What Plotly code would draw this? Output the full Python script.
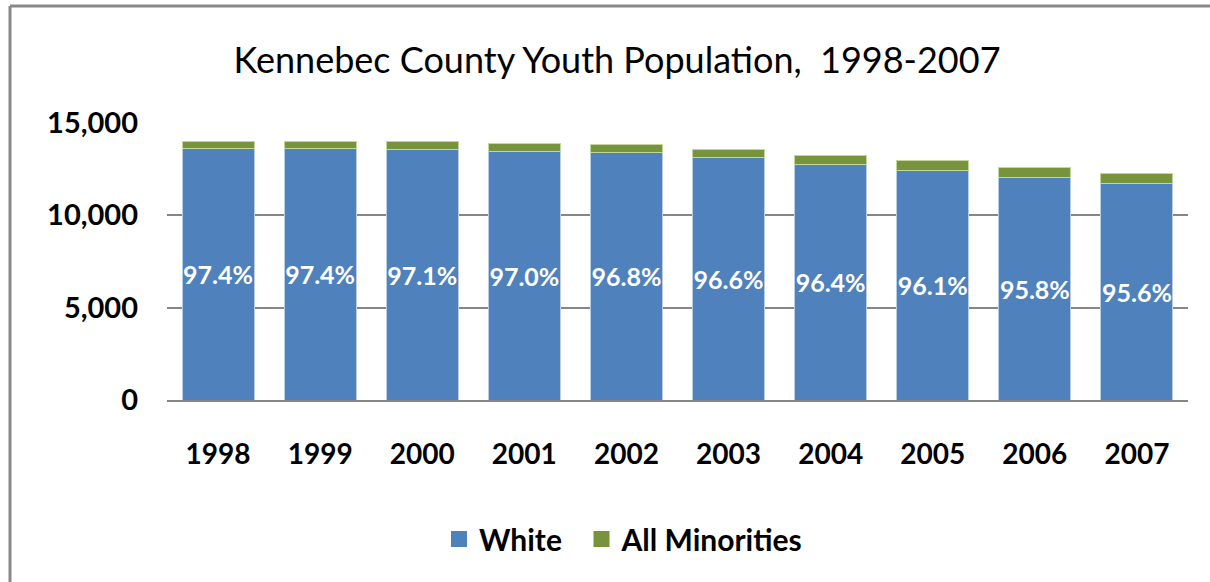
import plotly.graph_objects as go

years = ["1998", "1999", "2000", "2001", "2002", "2003", "2004", "2005", "2006", "2007"]
white = [13621, 13617, 13575, 13483, 13378, 13109, 12763, 12455, 12061, 11701]
minorities = [364, 363, 405, 417, 442, 461, 477, 505, 529, 539]
y_ticks = [0, 5000, 10000, 15000]

pct_labels = [f"{w / (w + m) * 100:.1f}%" for w, m in zip(white, minorities)]

FONT = "Lato"
BLUE, GREEN = "#4F81BD", "#77933C"

fig = go.Figure()
fig.add_trace(
    go.Bar(
        name="White",
        x=years,
        y=white,
        marker=dict(color=BLUE, line=dict(color="#B9CDE5", width=1)),
        text=pct_labels,
        textposition="inside",
        insidetextanchor="middle",
        constraintext="none",
        textangle=0,
        textfont=dict(family=FONT, size=25, color="white", weight="bold"),
        showlegend=False,
    )
)
fig.add_trace(
    go.Bar(
        name="All Minorities",
        x=years,
        y=minorities,
        marker=dict(color=GREEN, line=dict(color="#C3D69B", width=1)),
        showlegend=False,
    )
)

# bigger square legend keys than the bar defaults; nbsp pads the gap after "White"
for name, color in [("White\u00a0\u00a0", BLUE), ("All Minorities", GREEN)]:
    fig.add_trace(
        go.Scatter(
            name=name,
            x=[None],
            y=[None],
            mode="markers",
            marker=dict(symbol="square", size=18, color=color),
        )
    )

# plot area in pixels: x 167..1188, y 123..400
L, R, T, B = 167, 22, 123, 182
pw, ph = 1210 - L - R, 582 - T - B


def px(x):
    return (x - L) / pw


def py(y):
    return (582 - B - y) / ph


fig.update_layout(
    width=1210,
    height=582,
    barmode="stack",
    bargap=0.295,
    paper_bgcolor="white",
    plot_bgcolor="white",
    margin=dict(l=L, r=R, t=T, b=B),
    font=dict(family=FONT, color="black"),
    title=dict(
        text="Kennebec County Youth Population,  1998-2007",
        x=617 / 1210,
        xanchor="center",
        y=1 - 60 / 582,
        yanchor="middle",
        font=dict(family=FONT, size=36, color="black"),
    ),
    xaxis=dict(
        tickfont=dict(family=FONT, size=28, weight="bold"),
        showline=True,
        linecolor="#868686",
        linewidth=1.5,
        ticks="",
        ticklabelstandoff=29,
    ),
    yaxis=dict(
        range=[0, 15000],
        tickvals=y_ticks,
        tickformat=",",
        tickfont=dict(family=FONT, size=29, weight="bold"),
        showgrid=True,
        gridcolor="#868686",
        gridwidth=1.5,
        zeroline=False,
        ticks="",
        ticklabelstandoff=28,
    ),
    legend=dict(
        orientation="h",
        x=439 / 1210,
        xref="container",
        xanchor="left",
        y=1 - 539 / 582,
        yref="container",
        yanchor="middle",
        font=dict(family=FONT, size=30, weight="bold"),
        traceorder="normal",
        itemwidth=30,
    ),
    shapes=[
        dict(
            type="line", xref="paper", yref="paper",
            x0=px(10), x1=px(10), y0=py(6), y1=py(600),
            line=dict(color="#898989", width=3),
        ),
        dict(
            type="line", xref="paper", yref="paper",
            x0=px(10), x1=px(1215), y0=py(6), y1=py(6),
            line=dict(color="#898989", width=3),
        ),
    ],
)

fig.write_html(
    "out.html",
    config={"displayModeBar": False},
    post_script="document.body.style.margin='0';",
)
